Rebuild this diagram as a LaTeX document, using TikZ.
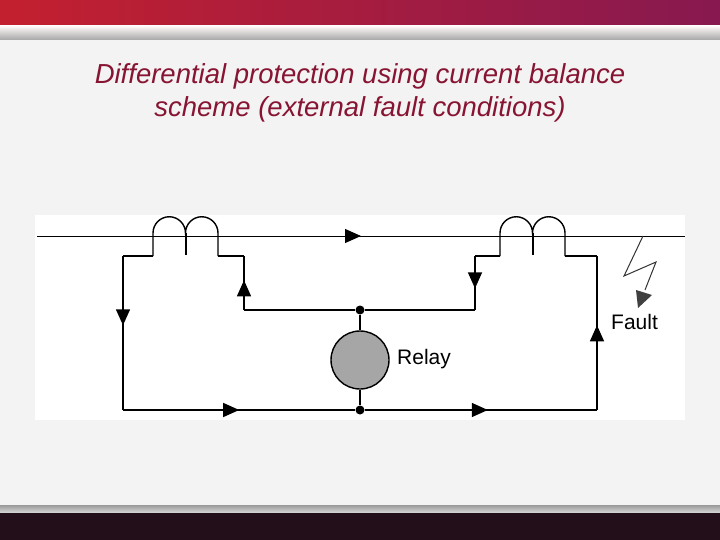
\documentclass[tikz,border=0pt]{standalone}
\usepackage{fontspec}
\setmainfont{Liberation Sans}
\usetikzlibrary{arrows.meta,decorations.markings}
\definecolor{banner}{RGB}{185,15,55}
\definecolor{bannerR}{RGB}{135,25,80}
\definecolor{titlec}{RGB}{135,20,50}
\definecolor{panel}{RGB}{243,243,243}
\definecolor{ground}{RGB}{35,15,25}
\tikzset{
  wire/.style={line width=1.4pt},
  midarrow/.style={postaction={decorate},decoration={markings,mark=at position #1 with {\arrow{Triangle[length=16pt,width=14pt]}}}},
  lbl/.style={font=\fontsize{21}{24}\selectfont, anchor=west, inner sep=0pt},
  dot/.style={circle,fill=black,inner sep=0pt,minimum size=9pt}
}
\begin{document}
\begin{tikzpicture}[x=1pt,y=-1pt]
\useasboundingbox (0,0) rectangle (720,540);
\shade[left color=banner!85!orange, right color=bannerR] (0,0) rectangle (720,26);
\shade[top color=white!90!pink, bottom color=gray!70] (0,26) rectangle (720,40);
\fill[panel] (0,40) rectangle (720,508);
\shade[top color=gray!80, bottom color=gray!30] (0,505) rectangle (720,513);
\fill[ground] (0,513) rectangle (720,540);
\fill[white] (35,215) rectangle (685,420);
\node[font=\itshape\fontsize{27.5}{33}\selectfont, text=titlec, align=center] (title) at (360,93) {Differential protection using current balance\\scheme (external fault conditions)};
% line
\coordinate (L0) at (37,236); \coordinate (L1) at (685,236);
\draw[line width=1pt, midarrow=0.5] (L0) -- (L1);
% CT1
\draw[wire] (153,256) -- (153,233) arc(180:0:16.25pt) arc(180:0:16.25pt) -- (218,256);
\draw[wire] (186,233) -- (186,255);
% CT2
\draw[wire] (500,256) -- (500,233) arc(180:0:16.25pt) arc(180:0:16.25pt) -- (565,256);
\draw[wire] (533,233) -- (533,255);
% relay
\node[dot] (d1) at (360,310) {};
\node[dot] (d2) at (360,410) {};
\node[circle,draw,line width=1.4pt,fill=gray!70,minimum size=58pt,inner sep=0pt] (relay) at (360,360) {};
\node[lbl] (rl) at (397,359) {Relay};
\draw[wire] (d1) -- (relay); \draw[wire] (relay) -- (d2);
% circuit wires
\draw[wire] (153,256) -- (123,256);
\draw[wire, midarrow=0.45] (123,256) -- (123,410);
\draw[wire, midarrow=0.5] (123,410) -- (d2);
\draw[wire] (218,256) -- (244,256);
\draw[wire, midarrow=0.55] (244,310) -- (244,256);
\draw[wire] (244,310) -- (d1);
\draw[wire] (500,256) -- (475,256);
\draw[wire, midarrow=0.6] (475,256) -- (475,310);
\draw[wire] (475,310) -- (d1);
\draw[wire, midarrow=0.53] (d2) -- (597,410);
\draw[wire, midarrow=0.55] (597,410) -- (597,256);
\draw[wire] (597,256) -- (565,256);
% fault
\draw[line width=1pt, black!80] (643,236) -- (624,276) -- (656,262) -- (645,290);
\fill[black!75] (636,290) -- (652,295) -- (638,308) -- cycle;
\node[lbl] (fl) at (611,322) {Fault};
\end{tikzpicture}
\end{document}
